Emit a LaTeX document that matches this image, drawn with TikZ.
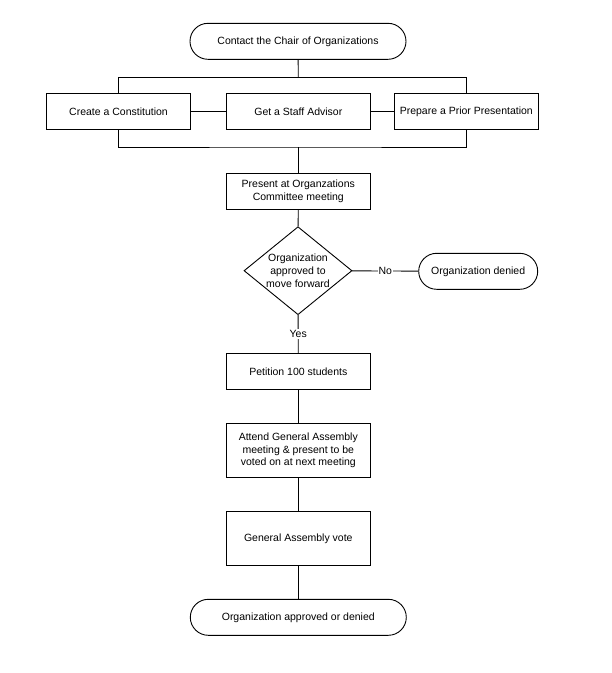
\documentclass[tikz,border=0pt]{standalone}
\usepackage{fontspec}
\setmainfont{Liberation Sans}
\usetikzlibrary{shapes.geometric}
\tikzset{
    stepbox/.style={rectangle, draw, line width=0.9pt, minimum width=144, minimum height=36, align=center, fill=white},
    term/.style={rectangle, draw, line width=0.9pt, rounded corners=18, minimum height=36, align=center, fill=white},
    choice/.style={diamond, draw, line width=0.9pt, aspect=1.227, inner sep=-2pt, minimum width=108, minimum height=88, align=center, fill=white},
    flow/.style={line width=0.9pt},
    tag/.style={fill=white, inner sep=1pt}
}

\begin{document}
\begin{tikzpicture}[x=1pt,y=-1pt,font=\fontsize{10.5}{12.7}\selectfont]
\useasboundingbox[fill=white] (0,0) rectangle (612,673);
\node[term,minimum width=216] (start) at (298,41.3) {Contact the Chair of Organizations};
\node[stepbox] (constitution) at (118.5,111.3) {Create a Constitution};
\node[stepbox] (advisor) at (298.3,111.3) {Get a Staff Advisor};
\node[stepbox] (prior) at (466.3,111.3) {Prepare a Prior Presentation};
\node[stepbox] (committee) at (298.3,191.3) {Present at Organzations\\Committee meeting};
\node[choice] (decide) at (298,270.7) {Organization\\approved to\\move forward};
\node[term,minimum width=119] (denied) at (478.2,271.3) {Organization denied};
\node[stepbox] (petition) at (298.3,371.3) {Petition 100 students};
\node[stepbox,minimum height=54] (attend) at (298.3,450.3) {Attend General Assembly\\meeting \& present to be\\voted on at next meeting};
\node[stepbox,minimum height=54] (vote) at (298.3,538.5) {General Assembly vote};
\node[term,minimum width=216] (finish) at (298.3,617.3) {Organization approved or denied};
\coordinate (topbar) at (298.3,77.3);
\coordinate (botbar) at (298.3,147);
\draw[flow] (start) -- (topbar);
\draw[flow] (constitution.north) |- (topbar) -| (prior.north);
\draw[flow] (constitution) -- (advisor);
\draw[flow] (advisor) -- (prior);
\draw[flow] (constitution.south) |- (botbar) -| (prior.south);
\draw[flow] (botbar) -- (committee);
\draw[flow] (committee) -- (decide);
\draw[flow] (decide) -- node[tag] {No} (denied);
\draw[flow] (decide) -- node[tag] {Yes} (petition);
\draw[flow] (petition) -- (attend);
\draw[flow] (attend) -- (vote);
\draw[flow] (vote) -- (finish);
\end{tikzpicture}
\end{document}
